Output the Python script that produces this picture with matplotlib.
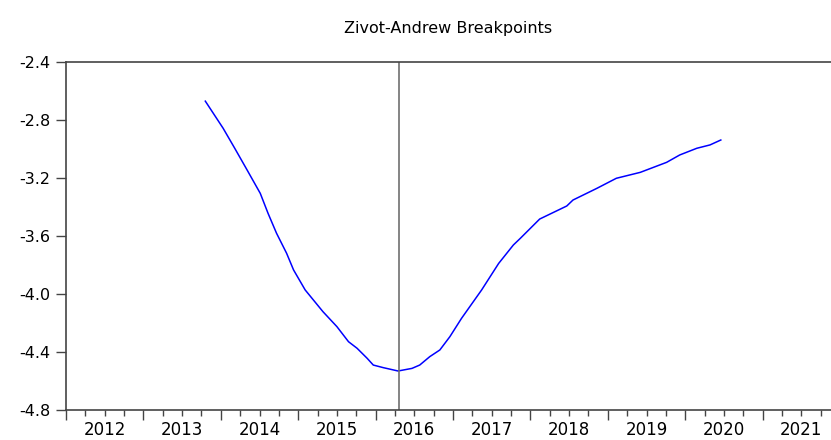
import matplotlib
matplotlib.use("Agg")
import matplotlib.pyplot as plt
from matplotlib.ticker import FixedLocator, FuncFormatter

# Zivot-Andrews t-statistic by breakpoint date
years = [2013.80, 2014.03, 2014.18, 2014.34, 2014.51, 2014.61, 2014.72, 2014.85,
         2014.94, 2015.09, 2015.32, 2015.50, 2015.65, 2015.76, 2015.89, 2015.97,
         2016.10, 2016.29, 2016.47, 2016.57, 2016.70, 2016.83, 2016.96, 2017.11,
         2017.37, 2017.59, 2017.78, 2017.87, 2018.12, 2018.47, 2018.55, 2018.86,
         2019.11, 2019.42, 2019.76, 2019.93, 2020.15, 2020.32, 2020.46]
tstat = [-2.670, -2.857, -2.995, -3.145, -3.306, -3.443, -3.581, -3.719,
         -3.834, -3.972, -4.122, -4.225, -4.329, -4.374, -4.443, -4.490,
         -4.508, -4.531, -4.513, -4.490, -4.432, -4.386, -4.294, -4.168,
         -3.972, -3.789, -3.662, -3.616, -3.483, -3.393, -3.352, -3.271,
         -3.202, -3.161, -3.092, -3.041, -2.995, -2.972, -2.938]
breakpoint = 2016.30
year_labels = list(range(2012, 2022))
yticks = [-4.8, -4.4, -4.0, -3.6, -3.2, -2.8, -2.4]

plt.rcParams['font.family'] = ['DejaVu Sans']

fig = plt.figure(figsize=(8.31, 4.4), dpi=100)
ax = fig.add_axes([66 / 831, 30 / 440, 1 - 66 / 831, 348 / 440])

ax.plot(years, tstat, color='#0000ff', lw=1.1)
ax.axvline(breakpoint, color='#707070', lw=1.2)

ax.set_xlim(2012, 2012 + 765 / 77.4)
ax.set_ylim(-4.8, -2.4)

axis_col = '#444444'
for side in ['left', 'top', 'bottom']:
    ax.spines[side].set_color(axis_col)
    ax.spines[side].set_linewidth(1.2)
ax.spines['right'].set_visible(False)

ax.set_yticks(yticks)
ax.set_yticklabels([f"{v:.1f}" for v in yticks])
ax.tick_params(axis='y', direction='out', length=7, width=1, color=axis_col,
               labelsize=11.5, pad=4)

# year boundaries as major ticks, quarters as minor ticks, labels at mid-year
ax.xaxis.set_major_locator(FixedLocator([y for y in year_labels] + [2022]))
ax.xaxis.set_major_formatter(FuncFormatter(lambda v, p: ""))
quarters = [y + q for y in year_labels for q in (0.25, 0.5, 0.75)]
ax.xaxis.set_minor_locator(FixedLocator(quarters))
ax.xaxis.set_minor_formatter(
    FuncFormatter(lambda v, p: str(int(v)) if abs(v - int(v) - 0.5) < 1e-6 else ""))
ax.tick_params(axis='x', which='major', direction='out', length=7, width=1,
               color=axis_col)
ax.tick_params(axis='x', which='minor', direction='out', length=4, width=1,
               color=axis_col, labelsize=12, pad=4)

ax.set_title("Zivot-Andrew Breakpoints", fontsize=11.5, pad=21)

fig.savefig("out.png", dpi=100)
